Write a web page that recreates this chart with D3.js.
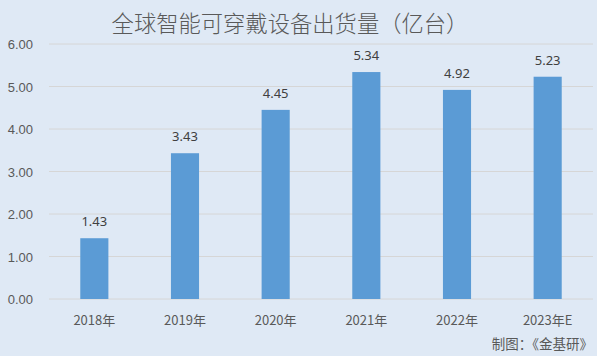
<!DOCTYPE html>
<html><head><meta charset="utf-8">
<script src="https://cdn.jsdelivr.net/npm/d3@7"></script>
<style>
html,body{margin:0;padding:0;background:#dfe9f5;}
svg{display:block;font-family:"Noto Sans","Noto Sans CJK SC",sans-serif;}
</style></head>
<body><svg id="c" width="597" height="356"></svg>
<script>
const categories = ["2018年","2019年","2020年","2021年","2022年","2023年E"];
const values = [1.43,3.43,4.45,5.34,4.92,5.23];
const yTicks = [0,1,2,3,4,5,6];
const title = "全球智能可穿戴设备出货量（亿台）";
const source = "制图：《金基研》";

const svg = d3.select("#c");
svg.append("rect").attr("width",597).attr("height",356).attr("fill","#dfe9f5");
const m = {left:49, right:4, top:44, bottom:57};
const W = 597, H = 356;
const x = d3.scaleBand().domain(categories).range([m.left, W-m.right]).paddingInner(0.69).paddingOuter(0.345);
const y = d3.scaleLinear().domain([0,6]).range([H-m.bottom, m.top]);

svg.append("g").selectAll("line").data(yTicks).join("line")
  .attr("x1",m.left).attr("x2",W-m.right)
  .attr("y1",d=>y(d)).attr("y2",d=>y(d))
  .attr("stroke","#d6d6d6").attr("stroke-width",1);

const ya = d3.axisLeft(y).tickValues(yTicks).tickFormat(d3.format(".2f")).tickSize(0).tickPadding(0);
svg.append("g").attr("transform",`translate(33,0)`).call(ya)
  .call(g=>g.select(".domain").remove())
  .selectAll("text").attr("fill","#595959").attr("font-size",13).attr("text-anchor","end").attr("dy","0.35em");

svg.append("g").selectAll("rect").data(values).join("rect")
  .attr("x",(d,i)=>x(categories[i])).attr("width",x.bandwidth())
  .attr("y",d=>y(d)).attr("height",d=>y(0)-y(d)).attr("fill","#5b9bd5");

svg.append("g").selectAll("text").data(values).join("text")
  .attr("x",(d,i)=>x(categories[i])+x.bandwidth()/2).attr("y",d=>y(d)-12)
  .attr("text-anchor","middle").attr("fill","#404040").attr("font-size",13)
  .text(d=>d.toFixed(2));

const xa = d3.axisBottom(x).tickSize(0).tickPadding(0);
svg.append("g").attr("transform",`translate(0,${H-m.bottom+21})`).call(xa)
  .call(g=>g.select(".domain").remove())
  .selectAll("text").attr("fill","#595959").attr("font-size",13).attr("dy","0.35em")
  .attr("font-family","'Noto Sans CJK SC',sans-serif");

svg.append("text").attr("x",290).attr("y",32).attr("text-anchor","middle")
  .attr("font-size",22.3).attr("font-weight",300).attr("fill","#595959").attr("font-family","'Noto Sans CJK SC',sans-serif").text(title);
svg.append("text").attr("x",593).attr("y",349).attr("text-anchor","end")
  .attr("font-size",13.5).attr("fill","#595959").attr("font-family","'Noto Sans CJK SC',sans-serif").text(source);
</script></body></html>
